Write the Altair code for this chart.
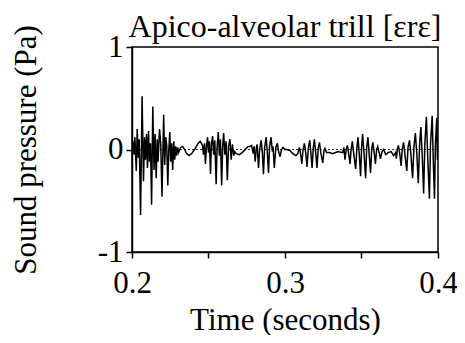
import altair as alt
import pandas as pd

# Time (s) and sound pressure (Pa)
time_s = [
    0.2000, 0.2006, 0.2013, 0.2019, 0.2028, 0.2034, 0.2041, 0.2047, 0.2056, 0.2066,
    0.2075, 0.2082, 0.2088, 0.2095, 0.2101, 0.2108, 0.2114, 0.2121, 0.2128, 0.2136,
    0.2144, 0.2151, 0.2158, 0.2165, 0.2170, 0.2180, 0.2188, 0.2196, 0.2207, 0.2214,
    0.2220, 0.2227, 0.2234, 0.2240, 0.2247, 0.2253, 0.2260, 0.2266, 0.2273, 0.2279,
    0.2286, 0.2292, 0.2299,
    0.2305, 0.2318, 0.2331, 0.2344, 0.2357, 0.2373, 0.2390, 0.2409, 0.2428, 0.2445,
    0.2454,
    0.2461, 0.2467, 0.2474, 0.2480, 0.2487, 0.2494, 0.2500, 0.2506, 0.2513, 0.2519,
    0.2527, 0.2534, 0.2541, 0.2550, 0.2556, 0.2564, 0.2571, 0.2578, 0.2586, 0.2593,
    0.2599, 0.2607, 0.2615, 0.2623, 0.2631, 0.2640, 0.2648, 0.2656, 0.2665, 0.2672,
    0.2681, 0.2701, 0.2720, 0.2740, 0.2759, 0.2772,
    0.2782, 0.2792, 0.2798, 0.2805, 0.2813, 0.2818, 0.2827, 0.2834, 0.2844, 0.2852,
    0.2859, 0.2867, 0.2877, 0.2884, 0.2892, 0.2899, 0.2909, 0.2917, 0.2922, 0.2930,
    0.2940, 0.2950, 0.2958, 0.2968, 0.2977, 0.2987, 0.2999,
    0.3012, 0.3032, 0.3051, 0.3071, 0.3084,
    0.3094, 0.3103, 0.3110, 0.3118, 0.3127, 0.3136, 0.3144, 0.3153, 0.3162, 0.3170,
    0.3177, 0.3185, 0.3192, 0.3201, 0.3209, 0.3217, 0.3225, 0.3234, 0.3247, 0.3255,
    0.3261, 0.3272,
    0.3291, 0.3311, 0.3330, 0.3350, 0.3369,
    0.3377, 0.3385, 0.3392, 0.3400, 0.3408, 0.3416, 0.3425, 0.3432, 0.3440, 0.3450,
    0.3462, 0.3470, 0.3477, 0.3486, 0.3494, 0.3501, 0.3507, 0.3517, 0.3527, 0.3534,
    0.3542, 0.3550, 0.3559, 0.3567, 0.3574, 0.3583, 0.3591, 0.3599, 0.3606, 0.3615,
    0.3624, 0.3634, 0.3645,
    0.3658, 0.3674, 0.3694, 0.3710, 0.3723,
    0.3728, 0.3734, 0.3741, 0.3750, 0.3759, 0.3766, 0.3775, 0.3784, 0.3796, 0.3804,
    0.3814, 0.3823, 0.3834, 0.3843, 0.3852, 0.3862, 0.3871, 0.3880, 0.3888, 0.3897,
    0.3906, 0.3914, 0.3924, 0.3933, 0.3944, 0.3951, 0.3962, 0.3969, 0.3977, 0.3983,
    0.3992, 0.3996, 0.3998,
]

pressure_pa = [
    0.00, 0.08, -0.05, 0.12, -0.21, 0.20, -0.08, 0.10, -0.64, 0.52,
    -0.31, 0.12, -0.10, 0.15, -0.18, 0.18, -0.12, 0.06, -0.54, 0.42,
    -0.20, 0.15, -0.28, 0.10, -0.12, 0.20, 0.05, -0.46, 0.34, -0.15,
    0.12, 0.04, -0.35, -0.02, 0.17, -0.12, 0.06, -0.20, 0.08, -0.10,
    0.03, -0.06, 0.02,
    -0.03, 0.02, 0.03, 0.00, -0.04, -0.06, -0.04, 0.00, 0.05, 0.08,
    0.06,
    0.04, -0.05, 0.06, -0.14, 0.03, 0.12, -0.03, 0.08, -0.24, 0.05,
    0.13, -0.05, 0.09, -0.34, 0.02, 0.17, -0.06, 0.10, -0.35, 0.04,
    0.16, -0.05, 0.08, -0.30, 0.03, 0.10, -0.10, 0.05, -0.06, -0.02,
    -0.04, -0.05, -0.03, 0.00, 0.03, 0.03,
    0.04, -0.04, 0.03, -0.12, 0.02, 0.05, -0.18, 0.00, 0.09, -0.03,
    -0.24, 0.02, 0.12, -0.02, -0.23, 0.03, 0.12, -0.02, 0.03, -0.18,
    0.02, 0.06, -0.02, -0.07, 0.00, 0.02, 0.00,
    0.00, -0.01, -0.04, -0.06, -0.04,
    0.02, -0.05, -0.14, 0.00, 0.06, -0.04, -0.17, 0.02, 0.09, -0.05,
    -0.18, 0.02, 0.10, -0.04, -0.18, 0.01, 0.07, -0.03, -0.13, -0.01,
    0.01, -0.03,
    -0.03, -0.04, -0.03, -0.02, -0.03,
    -0.03, 0.02, -0.10, 0.00, 0.04, -0.04, -0.14, 0.00, 0.08, -0.05,
    -0.19, 0.02, 0.12, -0.06, -0.26, 0.03, 0.15, -0.05, -0.28, 0.02,
    0.12, -0.04, -0.23, 0.01, 0.07, -0.03, -0.14, 0.00, 0.03, -0.03,
    -0.09, -0.02, 0.00,
    -0.05, -0.03, -0.02, -0.06, -0.03,
    -0.09, 0.00, 0.04, -0.04, -0.16, 0.00, 0.07, -0.05, -0.21, 0.02,
    0.09, -0.05, -0.28, 0.03, 0.16, -0.05, -0.33, 0.05, 0.22, -0.06,
    -0.43, 0.05, 0.32, -0.08, -0.48, 0.05, 0.33, -0.10, -0.48, 0.05,
    0.31, -0.10, 0.05,
]

x_ticks = [0.2, 0.25, 0.3, 0.35, 0.4]
y_ticks = [-1, 0, 1]
chart_title = ["Apico-alveolar trill [\u025br\u025b]"]

wave = pd.DataFrame({"t": time_s, "p": pressure_pa})
zero = pd.DataFrame({"p": [0]})
title_df = pd.DataFrame({"label": chart_title})

FONT = "Liberation Serif"
FS = 31
W, H = 306, 205

x_enc = alt.X(
    "t:Q",
    scale=alt.Scale(domain=[0.2, 0.4], nice=False, zero=False),
    axis=alt.Axis(
        title="Time (seconds)",
        values=x_ticks,
        labelExpr="datum.value == 0.25 || datum.value == 0.35 ? '' : toString(datum.value)",
        grid=False,
        tickSize=6,
        labelPadding=34,
        labelBaseline="alphabetic",
        titleBaseline="alphabetic",
        titleX=W / 2,
        titleY=77,
    ),
)

y_enc = alt.Y(
    "p:Q",
    scale=alt.Scale(domain=[-1, 1], nice=False, zero=False),
    axis=alt.Axis(
        title="Sound pressure (Pa)",
        values=y_ticks,
        labelExpr="toString(datum.value)",
        grid=False,
        tickSize=6,
        labelPadding=3,
        titleBaseline="alphabetic",
        titleAngle=270,
        titleX=-97,
        titleY=H / 2,
    ),
)

rule = alt.Chart(zero).mark_rule(
    color="black", strokeDash=[2, 2], strokeWidth=0.8
).encode(y=alt.Y("p:Q", scale=alt.Scale(domain=[-1, 1], nice=False)))

line = alt.Chart(wave).mark_line(
    color="black", strokeWidth=1.5, clip=True
).encode(x=x_enc, y=y_enc)

title_text = alt.Chart(title_df).mark_text(
    font=FONT, fontSize=32, baseline="alphabetic", align="center", color="black"
).encode(text="label:N", x=alt.value(W / 2), y=alt.value(-10))

chart = (
    alt.layer(rule, line, title_text)
    .properties(
        width=W,
        height=H,
        autosize=alt.AutoSizeParams(type="none"),
        padding={"left": 124, "top": 39, "right": 19, "bottom": 83},
    )
    .configure_view(stroke="black", strokeWidth=1.5)
    .configure_axis(
        labelFont=FONT,
        titleFont=FONT,
        labelFontSize=FS,
        titleFontSize=FS,
        titleFontWeight="normal",
        labelColor="black",
        titleColor="black",
        domainColor="black",
        tickColor="black",
        domainWidth=1.5,
        tickWidth=1.5,
        labelFlush=False,
        labelOverlap=False,
    )
)

chart.save("out.html", embed_options={"renderer": "svg", "actions": False})
